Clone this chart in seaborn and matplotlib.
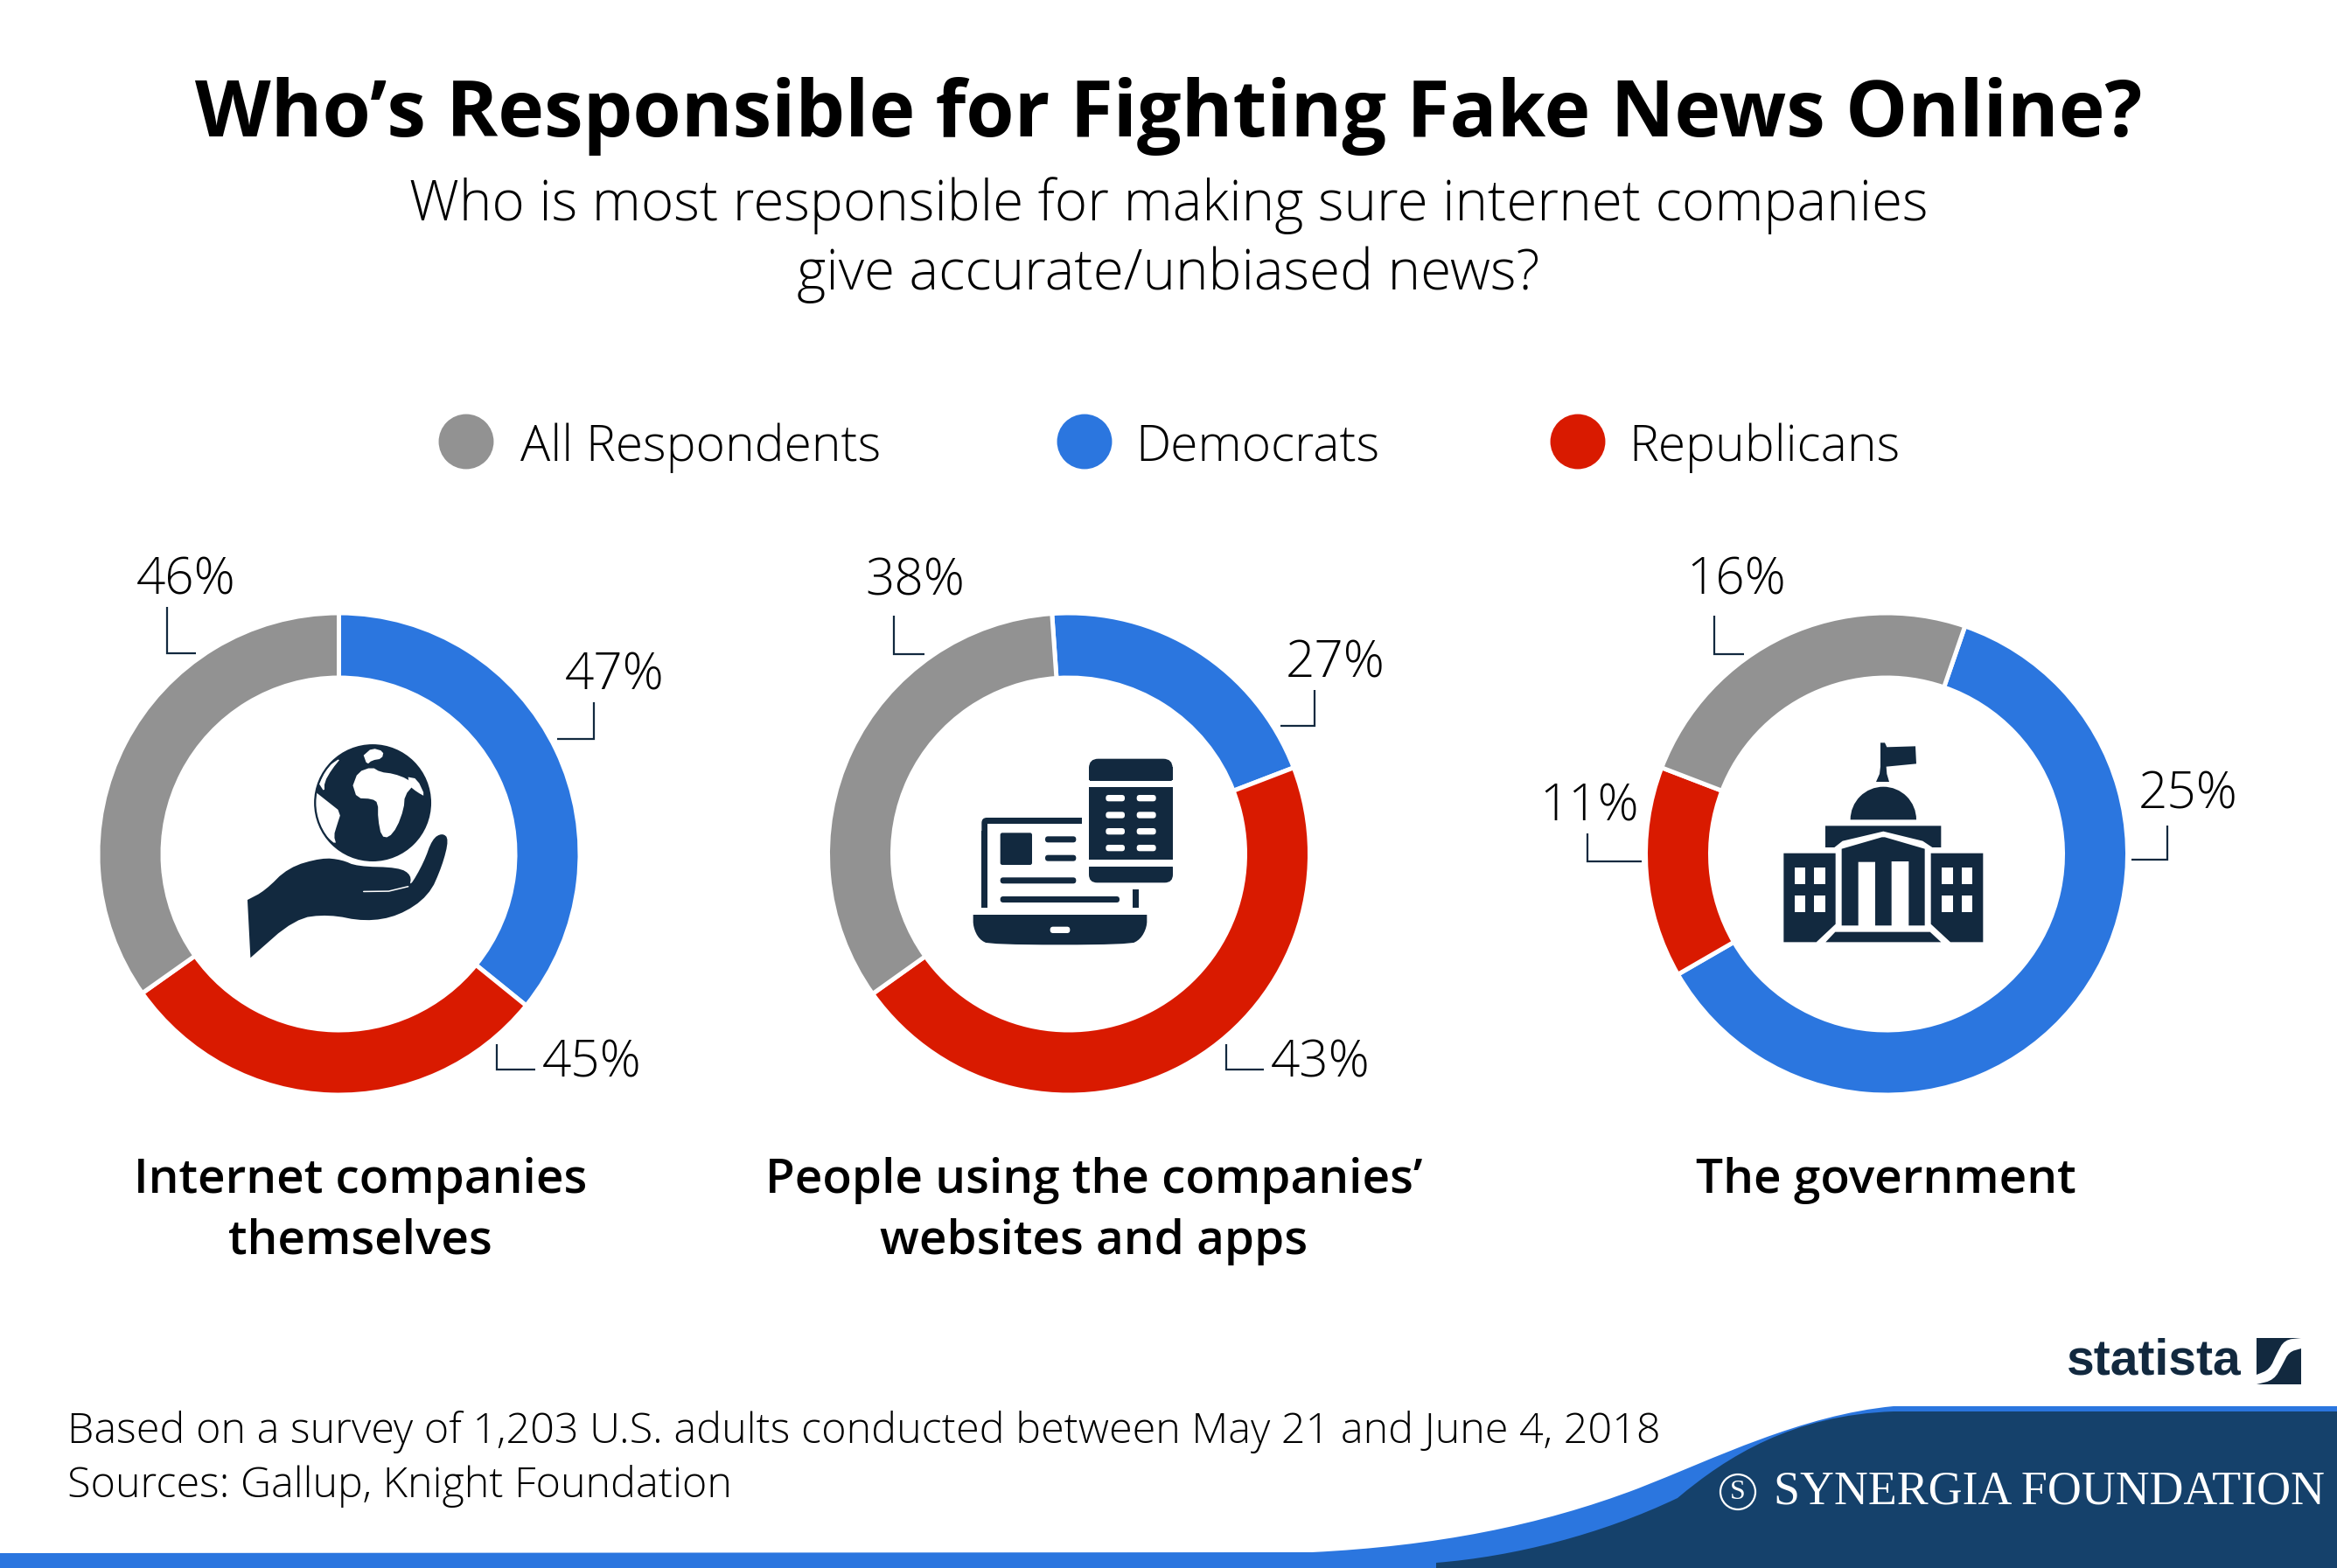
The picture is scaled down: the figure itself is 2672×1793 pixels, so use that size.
"""
Who's Responsible for Fighting Fake News Online - three donuts with icons
"""

import numpy as np
import pandas as pd
import matplotlib
matplotlib.use('Agg')
import matplotlib.pyplot as plt
from matplotlib.patches import Circle, FancyBboxPatch, PathPatch, Polygon, Rectangle, Wedge
from matplotlib.path import Path
import seaborn as sns

W, H = 2672, 1793

# ==================== data ====================

legend_names = ['All Respondents', 'Democrats', 'Republicans']
legend_colors = ['#929292', '#2B76DF', '#D91A00']

ring_order = ['Democrats', 'Republicans', 'All Respondents']
ring_names = ['Internet companies\nthemselves',
              "People using the companies’\nwebsites and apps",
              'The government']

# printed percentages, same order as ring_order
internet_pct = [47, 45, 46]
people_pct = [27, 43, 38]
government_pct = [25, 11, 16]

# the arcs as drawn in the picture do not follow the printed numbers, so
# their sweep in degrees is read off separately
internet_arc = [129, 105.7, 125.3]
people_arc = [73, 165.5, 121.5]
government_arc = [221, 51, 88]
ring_start = [0, -4, 19]

# ==================== layout ====================

sns.set_theme(style='white')
plt.rcParams['font.family'] = ['Open Sans', 'DejaVu Sans']

NAVY = '#12293F'
FOOT = '#15416B'
BLUE = '#2B76DF'

ring_x = [387.5, 1222, 2157]
ring_y = 976.5
label_pos = [
    [(703, 773), (677, 1216), (213, 664)],
    [(1527, 759), (1510, 1216), (1046, 665)],
    [(2502, 909), (1817, 923), (1985, 664)],
]
elbows = [
    [[(679, 803), (679, 845), (637, 845)],
     [(568, 1194), (568, 1223), (612, 1223)],
     [(191, 694), (191, 747), (224, 747)]],
    [[(1503, 789), (1503, 830), (1464, 830)],
     [(1402, 1194), (1402, 1223), (1445, 1223)],
     [(1022, 704), (1022, 748), (1057, 748)]],
    [[(2478, 944), (2478, 983), (2437, 983)],
     [(1815, 953), (1815, 985), (1877, 985)],
     [(1960, 704), (1960, 748), (1994, 748)]],
]
name_pos = [(412, 1350), (1251, 1350), (2156, 1350)]

fig = plt.figure(figsize=(W / 100, H / 100), dpi=100, facecolor='white')


def draw_ring(cx, cy, arcs, start):
    half = 290
    ax = fig.add_axes([(cx - half) / W, 1 - (cy + half) / H, 2 * half / W, 2 * half / H])
    ax.pie(arcs, colors=[legend_colors[legend_names.index(n)] for n in ring_order],
           startangle=90 - start, counterclock=False, radius=275.5,
           wedgeprops=dict(width=74, edgecolor='white', linewidth=3.6))
    ax.set_xlim(-half, half)
    ax.set_ylim(-half, half)
    ax.set_aspect('equal')
    ax.axis('off')


for i, arcs in enumerate([internet_arc, people_arc, government_arc]):
    draw_ring(ring_x[i], ring_y, arcs, ring_start[i])

# pixel canvas over everything, y runs downward like in the picture
ov = fig.add_axes([0, 0, 1, 1], zorder=5)
ov.patch.set_alpha(0)

# legend dots
legend_df = pd.DataFrame({'x': [533, 1240, 1804], 'y': [505, 505, 505], 'who': legend_names})
sns.scatterplot(data=legend_df, x='x', y='y', hue='who', ax=ov, legend=False,
                palette=dict(zip(legend_names, legend_colors)), s=2050, linewidth=0)
ov.set_xlim(0, W)
ov.set_ylim(H, 0)
ov.set_aspect('equal')
ov.axis('off')


def smooth(pts, n=3):
    """corner cutting, end points stay where they are"""
    pts = np.asarray(pts, dtype=float)
    for _ in range(n):
        q = pts[:-1] * 0.75 + pts[1:] * 0.25
        r = pts[:-1] * 0.25 + pts[1:] * 0.75
        mid = np.empty((len(q) * 2, 2))
        mid[0::2] = q
        mid[1::2] = r
        pts = np.vstack([pts[0], mid, pts[-1]])
    return pts


def poly(pts, color=NAVY, zorder=6):
    patch = Polygon(pts, closed=True, facecolor=color, edgecolor='none', zorder=zorder)
    ov.add_patch(patch)
    return patch


def rbox(x0, y0, x1, y1, r, color=NAVY, zorder=6):
    ov.add_patch(FancyBboxPatch((x0, y0), x1 - x0, y1 - y0,
                                boxstyle=f'round,pad=0,rounding_size={r}',
                                facecolor=color, edgecolor='none', zorder=zorder))


# ==================== texts ====================

ov.text(1336, 133, 'Who’s Responsible for Fighting Fake News Online?', ha='center', va='center',
        fontsize=64.5, fontweight='bold', color='black')
ov.text(1336, 235, 'Who is most responsible for making sure internet companies', ha='center', va='center',
        fontsize=45.9, fontweight='light', color='black')
ov.text(1336, 314, 'give accurate/unbiased news?', ha='center', va='center',
        fontsize=45.9, fontweight='light', color='black')

for name, x in zip(legend_names, [595, 1298, 1862]):
    ov.text(x, 512, name, ha='left', va='center', fontsize=41, fontweight='light', color='black')

for i, pcts in enumerate([internet_pct, people_pct, government_pct]):
    for j, p in enumerate(pcts):
        ov.text(label_pos[i][j][0], label_pos[i][j][1], f'{p}%', ha='center', va='center',
                fontsize=42, fontweight='light', color='black')
        xs, ys = zip(*elbows[i][j])
        ov.plot(xs, ys, color=NAVY, lw=1.6, solid_joinstyle='miter', solid_capstyle='butt')

for name, (x, y) in zip(ring_names, name_pos):
    ov.text(x, y, name.split('\n')[0], ha='center', va='center', fontsize=39.5, fontweight='semibold', color='black')
    if '\n' in name:
        ov.text(x, y + 70, name.split('\n')[1], ha='center', va='center', fontsize=39.5,
                fontweight='semibold', color='black')

ov.text(77, 1637, 'Based on a survey of 1,203 U.S. adults conducted between May 21 and June 4, 2018',
        ha='left', va='center', fontsize=34.9, fontweight='light', color='black')
ov.text(77, 1699, 'Sources: Gallup, Knight Foundation', ha='left', va='center', fontsize=34.9,
        fontweight='light', color='black')

# ==================== footer shapes ====================

blue_path = Path(
    [(0, 1776), (1500, 1775), (1640, 1768), (1760, 1745), (1873, 1702),
     (1960, 1668), (2060, 1618), (2165, 1608), (W, 1608), (W, H), (0, H), (0, 1776)],
    [Path.MOVETO, Path.LINETO, Path.CURVE4, Path.CURVE4, Path.CURVE4,
     Path.CURVE4, Path.CURVE4, Path.CURVE4, Path.LINETO, Path.LINETO, Path.LINETO, Path.CLOSEPOLY])
ov.add_patch(PathPatch(blue_path, facecolor=BLUE, edgecolor='none', zorder=3))
navy_path = Path(
    [(1642, H), (1642, 1787), (1730, 1780), (1830, 1755), (1918, 1713),
     (1975, 1665), (2050, 1618), (2165, 1614), (W, 1614), (W, H), (1642, H)],
    [Path.MOVETO, Path.LINETO, Path.CURVE4, Path.CURVE4, Path.CURVE4,
     Path.CURVE4, Path.CURVE4, Path.CURVE4, Path.LINETO, Path.LINETO, Path.CLOSEPOLY])
ov.add_patch(PathPatch(navy_path, facecolor=FOOT, edgecolor='none', zorder=4))

ov.add_patch(Circle((1987, 1706), 20, facecolor='none', edgecolor='white', lw=1.6, zorder=6))
ov.text(1987, 1706, 'S', ha='center', va='center', fontsize=23, family='Liberation Serif', color='white', zorder=7)
ov.text(2028, 1706, 'SYNERGIA FOUNDATION', ha='left', va='center', fontsize=38.8,
        family='Liberation Serif', color='white', zorder=7)

# statista wordmark
ov.text(2363, 1557, 'statista', ha='left', va='center', fontsize=41, fontweight='bold',
        family='Liberation Sans', color=NAVY, zorder=6)
ov.add_patch(Rectangle((2580, 1530), 51, 53, facecolor=NAVY, edgecolor='none', zorder=6))
poly(np.vstack([smooth([(2631, 1530), (2612, 1532), (2603, 1548), (2595, 1566), (2580, 1572)], 2),
                smooth([(2580, 1583), (2600, 1578), (2610, 1560), (2617, 1546), (2631, 1542)], 2)]),
     color='white', zorder=7)

# ==================== icons ====================


def z1(pts):
    return np.asarray(pts, dtype=float) / 2.613 + [100, 680]


def z2(pts):
    return np.asarray(pts, dtype=float) / 3 + [1000, 820]


def z3(pts):
    return np.asarray(pts, dtype=float) / 3 + [1960, 820]


# hand with globe
hand = smooth([(478, 912), (530, 885), (600, 815), (700, 786), (760, 792), (805, 812), (930, 815),
               (968, 838), (962, 875), (1005, 800), (1030, 730), (1060, 712), (1080, 730),
               (1060, 810), (1020, 900), (930, 960), (830, 977), (720, 955), (620, 968), (487, 1085)], 2)
poly(z1(hand))
ov.plot(*z1([(825, 887), (900, 886), (958, 872)]).T, color='white', lw=1.1, zorder=7)
cx, cy = z1([(852, 622)])[0]
ov.add_patch(Circle((cx, cy), 175 / 2.613, facecolor=NAVY, edgecolor='none', zorder=6))
land = [
    [(793, 570), (808, 530), (850, 515), (875, 530), (915, 535), (955, 550), (975, 568), (948, 600),
     (945, 640), (925, 695), (900, 726), (878, 722), (868, 670), (868, 622), (850, 610), (805, 608)],
    [(825, 480), (850, 458), (885, 468), (880, 490), (850, 495), (835, 508)],
    [(682, 590), (720, 620), (758, 650), (745, 690), (736, 720), (744, 748), (710, 720), (682, 670), (678, 620)],
    [(692, 565), (715, 515), (760, 485), (730, 522), (708, 560), (708, 590)],
    [(958, 545), (985, 550), (1010, 604), (985, 590), (962, 572)],
]
# keep a thin dark rim round the globe
rim = Circle((cx, cy), 169 / 2.613, transform=ov.transData)
for part in land:
    poly(z1(smooth(part + part[:1], 1)), color='white', zorder=7).set_clip_path(rim)


def box2(x0, y0, x1, y1, r=0, color=NAVY, zorder=6):
    (a, b), (c, d) = z2([(x0, y0), (x1, y1)])
    if r:
        rbox(a, b, c, d, r / 3, color, zorder)
    else:
        ov.add_patch(Rectangle((a, b), c - a, d - b, facecolor=color, edgecolor='none', zorder=zorder))


# phone and laptop
box2(735, 143, 1022, 235, 32)
box2(735, 170, 1022, 215)
box2(735, 220, 1022, 240, color='white', zorder=7)
box2(735, 240, 1023, 488)
box2(735, 490, 1023, 568, 28)
box2(735, 488, 1023, 512, color='white', zorder=7)
for kx in [(793, 858), (899, 965)]:
    for ky in [(267, 289), (325, 347), (381, 403), (438, 460)]:
        box2(kx[0], ky[0], kx[1], ky[1], 10, color='white', zorder=7)
box2(367, 345, 420, 420, 18)
box2(387, 365, 430, 430, color='white', zorder=6)
box2(367, 390, 387, 655)
box2(400, 345, 712, 365)
box2(885, 591, 905, 655)
box2(431, 397, 540, 507, 7)
box2(585, 409, 691, 430, 10)
box2(585, 473, 691, 494, 10)
box2(431, 550, 691, 571, 10)
box2(431, 615, 840, 636, 10)
poly(z2(smooth([(338, 678), (338, 720), (358, 762), (395, 781), (875, 781), (912, 762), (934, 720), (934, 678)], 2)))
box2(602, 719, 670, 741, 10, color='white', zorder=7)

# capitol building
poly(z3([(570, 88), (585, 88), (592, 103), (690, 100), (693, 160), (590, 170), (592, 195),
         (600, 222), (555, 222), (567, 195), (570, 170)]))
dx, dy = z3([(580, 352)])[0]
ov.add_patch(Wedge((dx, dy), 113 / 3, 180, 360, facecolor=NAVY, edgecolor='none', zorder=6))
poly(z3([(381, 373), (778, 373), (778, 447), (748, 447), (715, 425), (580, 392), (440, 425), (412, 447), (381, 447)]))
poly(z3([(437, 452), (575, 412), (585, 412), (722, 452), (722, 715), (667, 715), (667, 495), (608, 495),
         (608, 715), (552, 715), (552, 497), (494, 497), (494, 715), (437, 715)]))
poly(z3([(238, 467), (416, 467), (416, 710), (350, 772), (238, 772)]))
poly(z3([(743, 467), (922, 467), (922, 772), (810, 772), (743, 710)]))
poly(z3([(382, 772), (415, 737), (740, 737), (778, 772)]))
for wx in [(275, 312), (342, 380), (781, 818), (848, 885)]:
    for wy in [(516, 572), (612, 668)]:
        poly(z3([(wx[0], wy[0]), (wx[1], wy[0]), (wx[1], wy[1]), (wx[0], wy[1])]), color='white', zorder=7)

fig.savefig('out.png', dpi=100, facecolor='white')
